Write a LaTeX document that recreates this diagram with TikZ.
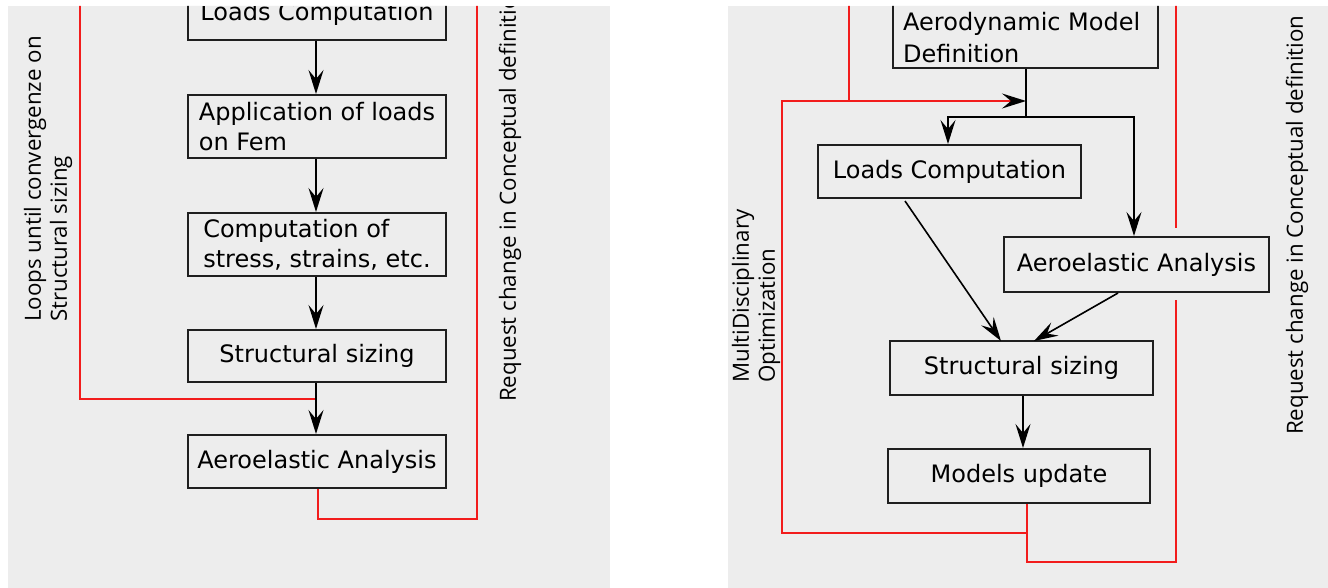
\documentclass[tikz,border=0pt]{standalone}
\usepackage{fontspec}
\setmainfont{DejaVu Sans}
\newfontfamily\rotfont{Open Sans}
\usetikzlibrary{arrows.meta}
\definecolor{panel}{RGB}{237,237,237}
\definecolor{fbred}{RGB}{242,28,28}
\tikzset{
  box/.style={draw=black!88, line width=2pt, fill=panel, minimum width=258pt,
    minimum height=53pt, inner sep=0pt, font=\fontsize{24}{30}\selectfont},
  flow/.style={line width=1.6pt, -{Stealth[length=24pt,width=15pt,inset=9pt]}},
  plainline/.style={line width=1.6pt},
  fb/.style={draw=fbred, line width=2pt},
  fbarrow/.style={draw=fbred, line width=2pt, -{Stealth[length=24pt,width=15pt,inset=9pt,color=black]}},
  vlab/.style={rotate=90, font=\rotfont\fontsize{22.3}{26}\selectfont, align=left, inner sep=0pt, anchor=west},
}
\begin{document}
\begin{tikzpicture}[x=1pt,y=-1pt]
\useasboundingbox (0,0) rectangle (1328,588);
\fill[white] (0,0) rectangle (1328,588);
\fill[panel] (8,6) rectangle (610,588);
\fill[panel] (728,6) rectangle (1328,588);
\begin{scope}
\clip (8,6) rectangle (610,588) (728,6) rectangle (1328,588);

% ---------------- left panel ----------------
\draw[fb] (316,399) coordinate (lj) -- (80,399) -- (80,0);
\node[box] (lc1) at (317,13.5) {Loads Computation};
\node[box, minimum height=63pt, align=left] (app) at (317,126.5) {Application of loads\\on Fem};
\node[box, minimum height=63pt, align=left] (comp) at (317,244.5) {Computation of\\stress, strains, etc.};
\node[box, minimum height=52pt] (ss1) at (317,356) {Structural sizing};
\node[box] (ae1) at (317,461.5) {Aeroelastic Analysis};
\draw[flow] (lc1.south -| 316,0) -- (app.north -| 316,0);
\draw[flow] (app.south -| 316,0) -- (comp.north -| 316,0);
\draw[flow] (comp.south -| 316,0) -- (ss1.north -| 316,0);
\draw[flow] (ss1.south -| 316,0) -- (ae1.north -| 316,0);
\draw[fb] (ae1.south -| 318,0) -- (318,519) -- (477,519) -- (477,0);
\node[vlab] (loops) at (48,322) {Loops until convergenze on\\Structural sizing};
\node[vlab] (req1) at (510,402) {Request change in Conceptual definition};

% ---------------- right panel ----------------
\draw[fb] (1176,228) -- (1176,0);
\draw[fb] (849,101) -- (849,0);
\node[box, minimum width=265pt, minimum height=90pt] (aero) at (1025.5,23) {};
\node[align=left, anchor=west, inner sep=0pt, font=\fontsize{24}{32}\selectfont] (aerot) at (903,38) {Aerodynamic Model\\Definition};
\node[box, minimum width=263pt] (lc2) at (949.5,171.5) {Loads Computation};
\node[box, minimum width=265pt, minimum height=55pt] (ae2) at (1136.5,264.5) {Aeroelastic Analysis};
\node[box, minimum width=263pt, minimum height=54pt] (ss2) at (1021.5,368) {Structural sizing};
\node[box, minimum width=262pt, minimum height=54pt] (mu) at (1019,476) {Models update};

\coordinate (j1) at (1026,117);
\draw[plainline] (aero.south -| j1) -- (j1);
\draw[flow] (j1) -- (948,117) -- (lc2.north -| 948,0);
\draw[flow] (j1) -- (1134,117) -- (ae2.north -| 1134,0);
\draw[flow] (905,201) -- (1001,341);
\draw[flow] (1118,293) -- (1034,341);
\draw[flow] (ss2.south -| 1023,0) -- (mu.north -| 1023,0);
\draw[fbarrow] (mu.south -| 1027,0) -- (1027,533) -- (782,533) -- (782,101) -- (1026,101);
\draw[fb] (1027,533) -- (1027,562) -- (1176,562) -- (1176,300);
\node[vlab] (mdo) at (756,383) {MultiDisciplinary\\Optimization};
\node[vlab] (req2) at (1297,435) {Request change in Conceptual definition};
\end{scope}
\end{tikzpicture}
\end{document}
